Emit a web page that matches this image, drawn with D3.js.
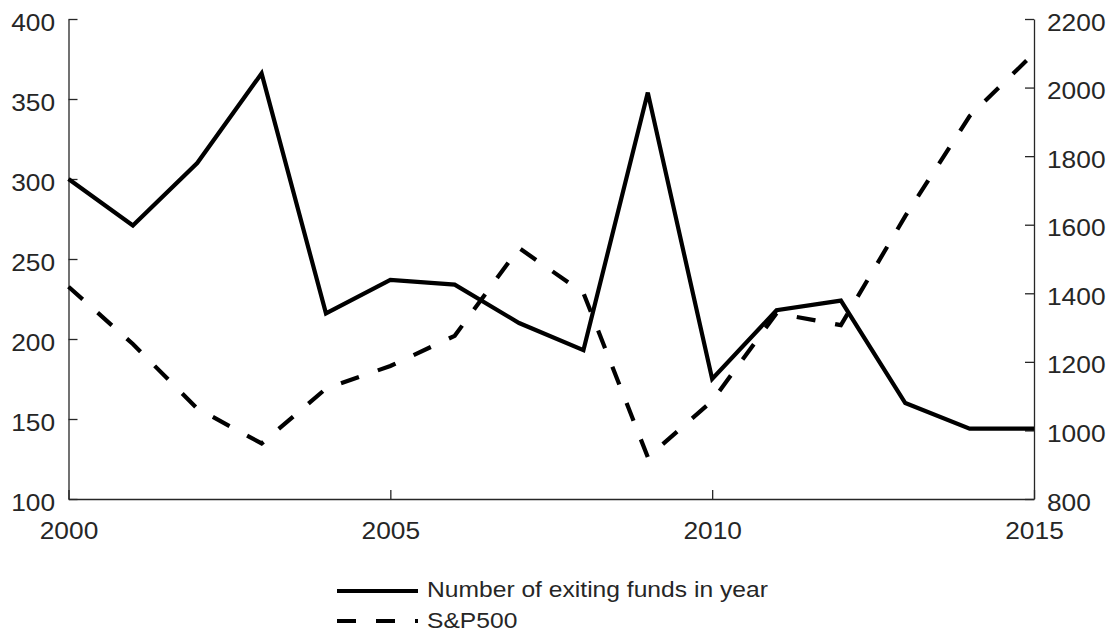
<!DOCTYPE html>
<html>
<head>
<meta charset="utf-8">
<script src="https://cdn.jsdelivr.net/npm/d3@7"></script>
<style>
  html, body { margin: 0; padding: 0; background: #fff; }
  svg { display: block; font-family: "Liberation Sans", Arial, sans-serif; }
</style>
</head>
<body>
<svg id="chart" width="1117" height="637"></svg>
<script>
// ---- data ----
const years = [2000, 2001, 2002, 2003, 2004, 2005, 2006, 2007, 2008, 2009, 2010, 2011, 2012, 2013, 2014, 2015];
const exitingFunds = [300, 271, 310, 366, 216, 237, 234, 210, 193, 354, 175, 218, 224, 160, 144, 144];
const sp500 = [1419, 1252, 1064, 962, 1122, 1188, 1276, 1532, 1401, 922, 1086, 1342, 1307, 1625, 1917, 2100];
const xTicks = [2000, 2005, 2010, 2015];
const leftTicks = [100, 150, 200, 250, 300, 350, 400];
const rightTicks = [800, 1000, 1200, 1400, 1600, 1800, 2000, 2200];
const seriesNames = ["Number of exiting funds in year", "S&P500"];

// ---- layout ----
const svg = d3.select("#chart");
const L = 68.5, R = 1034, T = 19, B = 499;
const SX = 1.12; // horizontal text stretch
const textColor = "#262626";

const x = d3.scaleLinear().domain([2000, 2015]).range([L, R]);
const yL = d3.scaleLinear().domain([100, 400]).range([B, T]);
const yR = d3.scaleLinear().domain([800, 2200]).range([B, T]);

// axes
const gx = svg.append("g").attr("transform", `translate(0,${B})`)
  .call(d3.axisBottom(x).tickValues(xTicks).tickFormat(d3.format("d"))
    .tickSizeInner(-9).tickSizeOuter(0));
gx.selectAll("text").attr("y", 40).attr("dy", 0);

const gl = svg.append("g").attr("transform", `translate(${L},0)`)
  .call(d3.axisLeft(yL).tickValues(leftTicks).tickFormat(d3.format("d"))
    .tickSizeInner(-9).tickSizeOuter(0).tickPadding(12));
gl.selectAll("text").attr("dy", "0.47em");

const gr = svg.append("g").attr("transform", `translate(${R},0)`)
  .call(d3.axisRight(yR).tickValues(rightTicks).tickFormat(d3.format("d"))
    .tickSizeInner(-9).tickSizeOuter(0).tickPadding(11.6));
gr.selectAll("text").attr("dy", "0.47em");

[gx, gl, gr].forEach(g => {
  g.select(".domain").attr("stroke", textColor).attr("stroke-width", 1.3);
  g.selectAll(".tick line").attr("stroke", textColor).attr("stroke-width", 1.3);
  g.selectAll("text").attr("font-size", 23.5).attr("fill", textColor)
    .attr("font-family", "Liberation Sans, Arial, sans-serif")
    .attr("transform", `scale(${SX},1)`);
});

// lines
const lineL = d3.line().x((d, i) => x(years[i])).y(d => yL(d));
const lineR = d3.line().x((d, i) => x(years[i])).y(d => yR(d));

svg.append("path").datum(sp500).attr("d", lineR)
  .attr("fill", "none").attr("stroke", "#000").attr("stroke-width", 4.2)
  .attr("stroke-dasharray", "19,20");
svg.append("path").datum(exitingFunds).attr("d", lineL)
  .attr("fill", "none").attr("stroke", "#000").attr("stroke-width", 4.2);

// legend
const legend = svg.append("g");
const rows = [
  { name: seriesNames[0], dash: null, ly: 591, ty: 597 },
  { name: seriesNames[1], dash: "19,20", ly: 621, ty: 628 }
];
rows.forEach(r => {
  legend.append("line").attr("x1", 337).attr("x2", 418).attr("y1", r.ly).attr("y2", r.ly)
    .attr("stroke", "#000").attr("stroke-width", 4.2)
    .attr("stroke-dasharray", r.dash);
  legend.append("text").attr("transform", `translate(427,${r.ty}) scale(${SX},1)`)
    .attr("font-size", 22).attr("fill", textColor).text(r.name);
});
</script>
</body>
</html>
